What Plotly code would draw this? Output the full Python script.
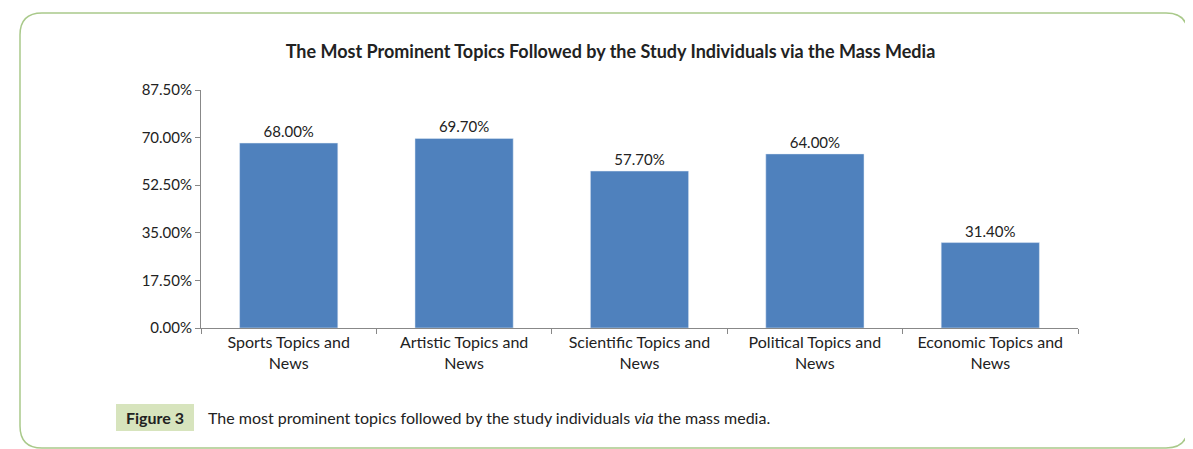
import plotly.graph_objects as go

categories = ["Sports Topics and<br>News", "Artistic Topics and<br>News", "Scientific Topics and<br>News",
              "Political Topics and<br>News", "Economic Topics and<br>News"]
values = [68.0, 69.7, 57.7, 64.0, 31.4]
labels = ["%.2f%%" % v for v in values]

W, H = 1193, 449
px = lambda x: x / W
py = lambda y: 1 - y / H

fig = go.Figure(go.Bar(
    x=categories, y=values, text=labels, textposition="outside",
    marker_color="#4f81bd", width=0.56, cliponaxis=False,
    textfont=dict(size=15, color="#222"),
))

# rounded frame
x0, x1, y0, y1, r = 12, 1180, 5, 440, 22
path = (f"M {px(x0+r)},{py(y0)} L {px(x1-r)},{py(y0)} Q {px(x1)},{py(y0)} {px(x1)},{py(y0+r)} "
        f"L {px(x1)},{py(y1-r)} Q {px(x1)},{py(y1)} {px(x1-r)},{py(y1)} "
        f"L {px(x0+r)},{py(y1)} Q {px(x0)},{py(y1)} {px(x0)},{py(y1-r)} "
        f"L {px(x0)},{py(y0+r)} Q {px(x0)},{py(y0)} {px(x0+r)},{py(y0)} Z")

fig.update_layout(
    width=W, height=H, margin=dict(l=0, r=0, t=0, b=0, autoexpand=False),
    paper_bgcolor="white", plot_bgcolor="white", showlegend=False,
    font=dict(family="Lato, Open Sans, sans-serif", size=15, color="#222"),
    title=dict(text="<b>The Most Prominent Topics Followed by the Study Individuals via the Mass Media</b>",
               x=0.505, xanchor="center", y=py(44), yanchor="middle", font=dict(size=18)),
    xaxis=dict(domain=[px(193), px(1070)], showline=True, linecolor="#888", ticks="outside",
               tickson="boundaries", ticklen=5, tickcolor="#888", showgrid=False,
               automargin=False, tickfont=dict(size=16)),
    yaxis=dict(domain=[py(320), py(82)], range=[0, 87.5], dtick=17.5, tickformat=".2f",
               ticksuffix="%", showline=True, linecolor="#888", ticks="outside", ticklen=5,
               tickcolor="#888", showgrid=False, zeroline=False, automargin=False,
               tickfont=dict(size=15)),
    shapes=[
        dict(type="path", xref="paper", yref="paper", path=path,
             line=dict(color="#a9c98a", width=1.5)),
        dict(type="rect", xref="paper", yref="paper", x0=px(108), x1=px(186), y0=py(423), y1=py(396),
             fillcolor="#d7e4bd", line=dict(width=0)),
    ],
    annotations=[
        dict(text="<b>Figure 3</b>", xref="paper", yref="paper", x=px(147), y=py(409),
             xanchor="center", yanchor="middle", showarrow=False, font=dict(size=16)),
        dict(text="The most prominent topics followed by the study individuals <i>via</i> the mass media.",
             xref="paper", yref="paper", x=px(198), y=py(409), xanchor="left", yanchor="middle",
             showarrow=False, font=dict(size=16)),
    ],
)

fig.write_html("out.html")
